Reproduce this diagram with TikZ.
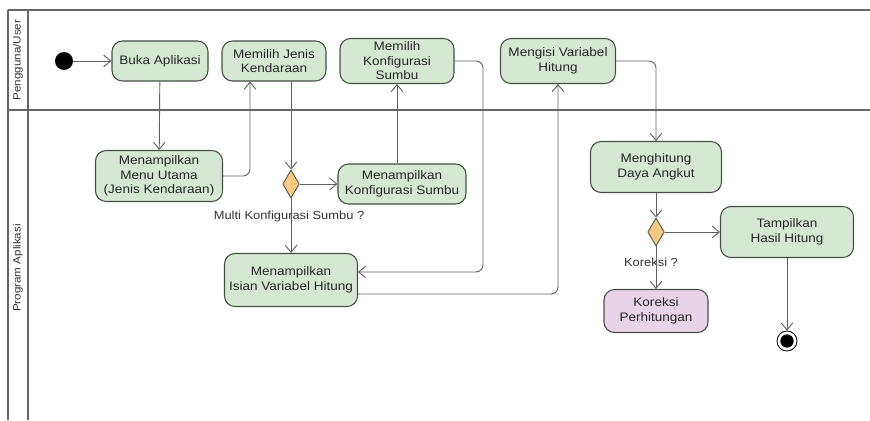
\documentclass[tikz,border=0pt]{standalone}
\usepackage{fontspec}
\setmainfont{Liberation Sans}[FakeStretch=1.1]
\usepackage{tikz}
\usetikzlibrary{positioning,calc,shapes.geometric,arrows.meta}

\definecolor{actgreen}{RGB}{214,232,212}
\definecolor{actpink}{RGB}{232,212,230}
\definecolor{decfill}{RGB}{248,200,130}
\definecolor{boxline}{RGB}{70,78,70}

\begin{document}
\begin{tikzpicture}[
    x=0.03cm, y=-0.03cm,
    activity/.style={rectangle, rounded corners=9pt, draw=boxline, line width=0.9pt, fill=actgreen, align=center, inner sep=2pt, font=\fontsize{10.5}{12.3}\selectfont, text=black!85},
    decision/.style={diamond, draw=boxline, line width=0.7pt, fill=decfill, inner sep=0pt, minimum width=0.5cm, minimum height=0.84cm},
    flow/.style={draw, line width=0.8pt, color=black!62, rounded corners=6pt, -{Straight Barb[length=6pt,width=10pt]}},
    lane/.style={line width=1.6pt, color=black!60},
    guard/.style={font=\fontsize{10}{12}\selectfont, text=black!80},
    lanename/.style={rotate=90, font=\fontsize{9}{10}\selectfont, text=black!80}
]
\useasboundingbox (0,0) rectangle (870,420);

% Swimlanes
\draw[lane] (8,10) -- (870,10);
\draw[lane] (8,110) -- (870,110);
\draw[lane] (8,10) -- (8,420);
\draw[lane] (28,10) -- (28,420);
\node[lanename] (laneuser) at (18,60) {Pengguna/User};
\node[lanename] (laneapp) at (18,268) {Program Aplikasi};

% Define node positions
\node[circle, fill=black, minimum size=0.54cm, inner sep=0pt] (start) at (64,61) {};
\node[activity, minimum width=2.88cm, minimum height=1.2cm] (buka) at (160,61) {Buka Aplikasi};
\node[activity, minimum width=3.12cm, minimum height=1.2cm] (jenis) at (274,61) {Memilih Jenis\\Kendaraan};
\node[activity, minimum width=3.42cm, minimum height=1.35cm] (pilkonf) at (397,61) {Memilih\\Konfigurasi\\Sumbu};
\node[activity, minimum width=3.45cm, minimum height=1.35cm] (mengisi) at (558,61) {Mengisi Variabel\\Hitung};
\node[activity, minimum width=3.81cm, minimum height=1.53cm] (menu) at (159,176) {Menampilkan\\Menu Utama\\(Jenis Kendaraan)};
\node[decision] (d1) at (291,184) {};
\node[activity, minimum width=3.84cm, minimum height=1.2cm] (konf) at (402,184) {Menampilkan\\Konfigurasi Sumbu};
\node[activity, minimum width=3.99cm, minimum height=1.59cm] (isian) at (291,280) {Menampilkan\\Isian Variabel Hitung};
\node[activity, minimum width=3.93cm, minimum height=1.53cm] (hitung) at (656,167) {Menghitung\\Daya Angkut};
\node[decision] (d2) at (656,232) {};
\node[activity, minimum width=3.99cm, minimum height=1.53cm] (tampil) at (787,232) {Tampilkan\\Hasil Hitung};
\node[activity, fill=actpink, minimum width=3.12cm, minimum height=1.29cm] (koreksi) at (656,311) {Koreksi\\Perhitungan};
\node[circle, draw=black, line width=0.7pt, minimum size=0.6cm, inner sep=0pt,
      path picture={\fill[black] (path picture bounding box.center) circle (0.2cm);}] (stop) at (787,341) {};

% Guard labels
\node[guard] (multi) at (289,216) {Multi Konfigurasi Sumbu ?};
\node[guard] (kor) at (651,262) {Koreksi ?};

% Bend points
\coordinate (c1) at (483,272);
\coordinate (c2) at (558,294);

% Control flow
\draw[flow] (start) -- (buka);
\draw[flow] (buka) -- (menu);
\draw[flow] (menu.east) -| ([xshift=-0.72cm]jenis.south);
\draw[flow] (jenis.south -| d1.north) -- (d1.north);
\draw[flow] (d1.east) -- (konf.west);
\draw[flow] (d1.south) -- (isian.north);
\draw[flow] (konf.north -| pilkonf.south) -- (pilkonf.south);
\draw[flow] (pilkonf.east) -| (c1) -- (c1 -| isian.east);
\draw[flow] (c2 -| isian.east) -| (mengisi.south);
\draw[flow] (mengisi.east) -| (hitung.north);
\draw[flow] (hitung) -- (d2);
\draw[flow] (d2.east) -- (tampil.west);
\draw[flow] (d2.south) -- (koreksi.north);
\draw[flow] (tampil) -- (stop);

\end{tikzpicture}
\end{document}
